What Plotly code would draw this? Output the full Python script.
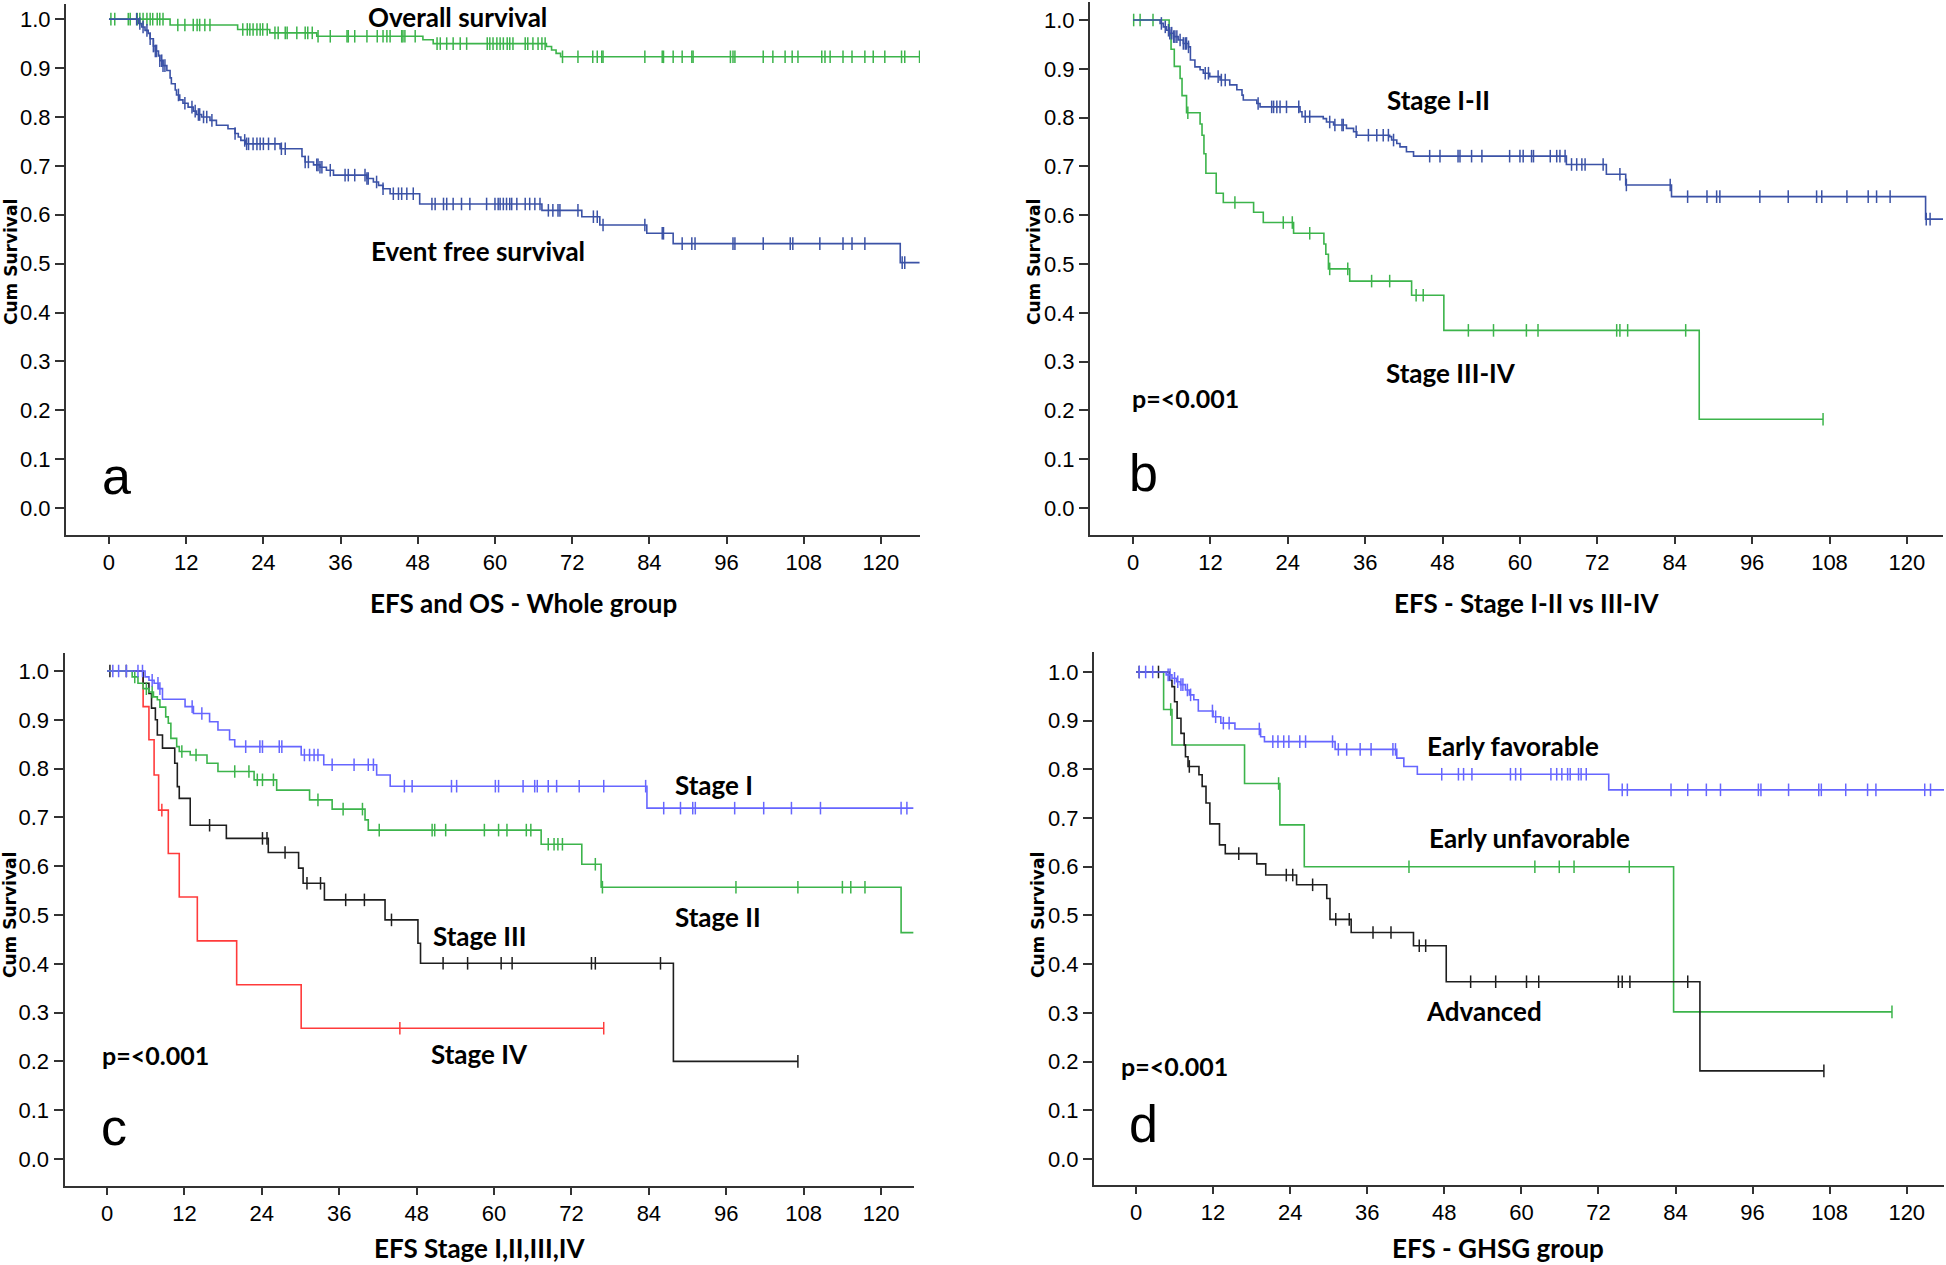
import plotly.graph_objects as go

# ---------------- data (months, cumulative survival) ----------------
# panel a: whole group
os_t = [9.5, 20.0, 25.0, 32.3, 48.8, 50.4, 68.0, 68.8, 69.5, 70.2]
os_s = [0.988, 0.979, 0.972, 0.965, 0.958, 0.950, 0.944, 0.937, 0.930, 0.923]
os_cens = [0.3, 0.9, 3.0, 3.3, 4.4, 4.8, 5.3, 5.9, 6.4, 6.8, 7.5, 7.9, 8.4, 10.7, 11.8, 13.1, 13.7,
           14.1, 14.9, 15.7, 20.8, 21.5, 21.9, 22.4, 23.0, 23.5, 23.9, 24.6, 25.8, 26.3, 27.4, 27.7,
           29.2, 30.5, 30.9, 31.6, 32.5, 34.4, 37.0, 37.2, 38.2, 40.1, 41.7, 42.6, 43.2, 43.7, 45.5,
           45.7, 46.0, 47.6, 51.0, 51.5, 52.5, 53.5, 54.6, 55.6, 58.8, 59.2, 59.7, 60.3, 60.8, 61.3,
           61.9, 62.3, 62.8, 64.7, 65.1, 65.9, 66.7, 67.3, 67.8, 70.5, 72.9, 75.2, 75.9, 76.6, 76.8,
           83.3, 86.0, 86.2, 87.7, 89.1, 90.6, 90.8, 96.6, 97.0, 97.3, 101.7, 103.2, 105.1, 106.2,
           107.1, 110.8, 111.3, 112.1, 114.1, 115.5, 117.5, 118.8, 120.6, 123.2, 123.7, 126.0]
os_end = 126.0

efs_t = [4.6, 5.1, 5.6, 6.1, 6.4, 6.9, 7.2, 7.7, 7.9, 8.4, 9.0, 9.5, 9.7, 10.3, 10.5, 11.0, 11.5,
         12.3, 13.1, 13.6, 14.4, 15.7, 16.7, 18.5, 19.6, 20.1, 20.5, 21.2, 26.6, 30.0, 30.5, 31.8,
         32.8, 33.8, 34.9, 40.1, 41.1, 41.9, 42.6, 43.7, 48.3, 67.3, 73.5, 76.3, 83.6, 87.7, 123.0]
efs_s = [0.991, 0.984, 0.977, 0.971, 0.960, 0.945, 0.935, 0.925, 0.915, 0.905, 0.895, 0.880, 0.868,
         0.855, 0.845, 0.835, 0.828, 0.820, 0.812, 0.805, 0.800, 0.793, 0.783, 0.776, 0.766, 0.759,
         0.752, 0.745, 0.735, 0.719, 0.708, 0.702, 0.697, 0.691, 0.681, 0.674, 0.667, 0.660, 0.653,
         0.643, 0.622, 0.609, 0.596, 0.579, 0.562, 0.541, 0.502]
efs_cens = [4.3, 4.8, 5.3, 5.9, 6.4, 6.9, 7.2, 7.4, 7.9, 8.2, 8.4, 8.7, 10.8, 11.8, 12.9, 13.4, 13.9,
            14.1, 14.7, 15.2, 16.0, 19.6, 21.1, 21.4, 21.7, 22.4, 23.0, 23.5, 24.0, 24.8, 25.8, 26.8,
            27.4, 30.5, 31.0, 32.3, 32.5, 32.8, 33.1, 34.4, 36.7, 37.2, 38.2, 39.8, 40.1, 40.3, 41.6,
            42.6, 44.2, 45.0, 45.5, 46.3, 47.3, 50.2, 50.7, 52.0, 52.5, 53.5, 54.8, 56.1, 58.7, 60.0,
            60.5, 60.8, 61.3, 61.8, 62.3, 62.6, 63.4, 64.7, 65.4, 66.2, 67.0, 68.3, 69.0, 69.8, 70.1,
            72.9, 75.3, 75.9, 76.8, 83.3, 86.0, 86.2, 89.1, 90.6, 91.1, 97.0, 97.3, 101.7, 105.9,
            106.3, 110.5, 114.1, 115.5, 117.5, 123.3, 123.7]
efs_end = 126.0

# panel b: stage I-II vs III-IV
b12_t = [4.2, 4.7, 5.2, 5.7, 6.3, 7.0, 7.8, 8.6, 8.9, 9.6, 10.4, 10.9, 11.9, 13.5, 15.0, 16.1, 16.9,
         17.1, 19.2, 19.7, 25.9, 26.2, 29.5, 30.0, 31.1, 33.1, 34.2, 34.7, 39.8, 40.1, 40.9, 41.4,
         42.4, 43.5, 67.2, 73.4, 76.4, 83.5, 122.9]
b12_s = [0.993, 0.986, 0.979, 0.973, 0.966, 0.959, 0.952, 0.945, 0.918, 0.904, 0.898, 0.891, 0.884,
         0.877, 0.867, 0.857, 0.846, 0.836, 0.829, 0.822, 0.812, 0.802, 0.798, 0.791, 0.785, 0.778,
         0.771, 0.764, 0.761, 0.754, 0.747, 0.740, 0.730, 0.721, 0.704, 0.684, 0.662, 0.638, 0.592]
b12_cens = [4.4, 5.0, 5.5, 5.7, 6.0, 6.3, 6.5, 6.8, 7.3, 7.8, 8.1, 8.3, 8.6, 11.2, 11.7, 13.2, 13.7,
            14.3, 19.4, 21.5, 21.8, 22.3, 22.8, 23.8, 25.7, 26.7, 27.4, 30.5, 31.3, 32.4, 32.6, 34.6,
            36.5, 37.8, 38.8, 39.6, 40.4, 46.0, 47.6, 50.4, 50.7, 52.5, 54.1, 58.4, 60.0, 60.5, 61.8,
            62.1, 64.7, 65.7, 66.2, 67.0, 68.0, 68.8, 69.6, 70.1, 72.9, 75.5, 76.5, 83.3, 86.0, 89.0,
            90.5, 91.0, 97.2, 101.6, 106.0, 106.8, 110.7, 114.0, 115.3, 117.4, 123.0, 123.6]
b12_end = 125.6

b34_t = [5.6, 5.9, 6.4, 7.3, 7.6, 8.3, 10.4, 10.7, 11.0, 11.3, 12.9, 14.0, 18.7, 20.2, 24.9, 29.6,
         29.9, 30.3, 33.6, 43.2, 48.2, 87.8]
b34_s = [0.970, 0.940, 0.905, 0.880, 0.845, 0.810, 0.787, 0.764, 0.726, 0.686, 0.645, 0.626, 0.606,
         0.585, 0.563, 0.541, 0.520, 0.490, 0.465, 0.436, 0.364, 0.182]
b34_cens = [0.1, 1.1, 3.1, 8.5, 15.8, 23.3, 24.7, 27.4, 30.5, 33.3, 37.0, 39.8, 43.9, 45.0, 52.0,
            55.9, 61.0, 62.8, 75.0, 75.5, 76.7, 85.7, 107.0]
b34_end = 107.0

# panel c: stage I, II, III, IV
c1_t = [5.9, 6.5, 7.3, 8.0, 8.6, 12.1, 13.4, 15.9, 17.2, 19.0, 19.8, 30.1, 33.6, 41.8, 43.9, 83.7]
c1_s = [0.988, 0.981, 0.975, 0.964, 0.942, 0.927, 0.913, 0.896, 0.879, 0.859, 0.845, 0.828, 0.808,
        0.787, 0.764, 0.719]
c1_cens = [0.9, 1.8, 3.0, 4.8, 5.5, 7.0, 7.9, 8.2, 13.2, 14.7, 21.5, 23.7, 24.1, 26.7, 27.1, 30.6,
           31.4, 32.1, 32.7, 34.9, 38.3, 40.5, 41.3, 46.1, 47.3, 53.4, 54.2, 60.2, 60.7, 64.5, 66.3,
           66.7, 68.4, 69.7, 73.2, 77.0, 83.5, 86.3, 88.9, 90.8, 91.2, 97.3, 101.8, 106.1, 110.6,
           123.1, 124.0]
c1_end = 125.0

c2_t = [3.9, 4.8, 5.6, 6.5, 7.2, 7.8, 8.2, 9.1, 9.5, 9.9, 10.8, 11.2, 12.9, 15.5, 17.2, 22.8, 26.3,
        31.4, 34.9, 40.0, 40.5, 67.3, 73.6, 76.6, 123.1]
c2_s = [0.988, 0.975, 0.964, 0.957, 0.947, 0.941, 0.926, 0.906, 0.893, 0.862, 0.845, 0.835, 0.828,
        0.811, 0.794, 0.777, 0.756, 0.736, 0.717, 0.695, 0.674, 0.645, 0.604, 0.557, 0.464]
c2_cens = [4.3, 6.1, 7.0, 11.6, 13.8, 19.8, 22.0, 23.3, 24.1, 25.8, 32.7, 36.6, 39.6, 42.2, 50.4,
           50.8, 52.5, 58.5, 60.7, 62.0, 65.0, 65.7, 68.4, 69.3, 69.9, 70.6, 75.7, 76.8, 97.5, 107.1,
           114.0, 115.3, 117.5]
c2_end = 125.0

c3_t = [5.6, 6.5, 6.9, 7.5, 7.8, 8.6, 10.5, 10.9, 11.2, 12.9, 18.5, 25.0, 29.7, 30.4, 33.7, 43.1,
        48.2, 48.6, 87.8]
c3_s = [0.975, 0.954, 0.924, 0.900, 0.869, 0.842, 0.811, 0.763, 0.739, 0.684, 0.657, 0.628, 0.596,
        0.565, 0.531, 0.490, 0.442, 0.401, 0.200]
c3_cens = [0.45, 3.0, 15.9, 24.1, 24.8, 27.6, 31.0, 33.1, 37.0, 39.9, 44.1, 52.1, 55.9, 61.1, 62.8,
           75.1, 75.7, 85.8, 107.1]
c3_end = 107.1

c4_t = [5.6, 6.5, 7.3, 8.0, 9.5, 11.2, 14.0, 20.1, 30.1]
c4_s = [0.927, 0.859, 0.787, 0.715, 0.626, 0.537, 0.447, 0.357, 0.268]
c4_cens = [8.5, 45.4, 77.0]
c4_end = 77.0

# panel d: GHSG group
ef_t = [4.7, 5.6, 6.3, 6.9, 7.7, 8.3, 9.0, 9.7, 12.0, 13.2, 15.4, 19.4, 20.0, 31.0, 40.6, 41.7,
        43.8, 73.6]
ef_s = [0.994, 0.987, 0.980, 0.974, 0.963, 0.953, 0.943, 0.920, 0.908, 0.895, 0.883, 0.867, 0.857,
        0.841, 0.823, 0.806, 0.790, 0.758]
ef_cens = [0.5, 1.5, 2.6, 5.0, 5.3, 6.0, 6.5, 7.0, 7.3, 8.0, 8.5, 11.9, 12.4, 13.6, 14.5, 19.2,
           21.3, 22.1, 23.0, 23.8, 25.5, 26.4, 30.6, 31.5, 32.8, 34.9, 36.6, 40.0, 40.4, 47.6, 50.2,
           51.0, 52.3, 58.3, 59.1, 59.9, 64.6, 65.5, 66.3, 67.2, 67.6, 68.9, 69.3, 70.1, 75.7, 76.5,
           83.3, 85.9, 88.8, 91.0, 96.9, 97.3, 101.6, 106.3, 106.7, 110.5, 113.9, 115.2, 122.8,
           123.7]
ef_end = 125.8

eu_t = [4.3, 5.6, 16.9, 22.4, 26.2, 83.7]
eu_s = [0.923, 0.850, 0.771, 0.686, 0.600, 0.302]
eu_cens = [5.4, 22.2, 42.5, 62.1, 65.9, 68.2, 76.8, 117.7]
eu_end = 117.7

adv_t = [5.2, 5.6, 6.0, 6.4, 7.0, 7.5, 7.7, 8.1, 9.8, 10.3, 10.9, 11.5, 13.0, 13.9, 18.8, 20.2, 25.0,
         29.7, 30.2, 33.5, 43.2, 48.3, 87.8]
adv_s = [0.983, 0.970, 0.939, 0.905, 0.874, 0.850, 0.826, 0.806, 0.789, 0.765, 0.731, 0.688, 0.645,
         0.627, 0.606, 0.583, 0.563, 0.535, 0.492, 0.465, 0.438, 0.364, 0.181]
adv_cens = [0.5, 3.5, 8.3, 16.0, 23.4, 24.4, 27.5, 31.1, 33.2, 36.9, 39.7, 44.1, 45.1, 52.1, 56.0,
            60.8, 62.7, 75.1, 75.7, 76.9, 85.9, 107.1]
adv_end = 107.1

x_ticks = [0, 12, 24, 36, 48, 60, 72, 84, 96, 108, 120]
y_ticks = [0.0, 0.1, 0.2, 0.3, 0.4, 0.5, 0.6, 0.7, 0.8, 0.9, 1.0]

# ---------------- colours ----------------
GREEN = "#3cb44b"
DBLUE = "#3b52a6"
LBLUE = "#6666ff"
RED = "#ff3b3b"
BLACK = "#1e1e1e"
AXIS = "#333333"


def step_xy(times, surv, end):
    return [0] + list(times) + [end], [1.0] + list(surv) + [surv[-1]]


def surv_at(times, surv, t):
    s = 1.0
    for ti, si in zip(times, surv):
        if ti <= t:
            s = si
    return s


fig = go.Figure()


def add_curve(times, surv, cens, end, color, n):
    xa, ya = ("x", "y") if n == 1 else ("x%d" % n, "y%d" % n)
    x, y = step_xy(times, surv, end)
    fig.add_trace(go.Scatter(x=x, y=y, mode="lines", line=dict(color=color, width=1.6, shape="hv"),
                             xaxis=xa, yaxis=ya, showlegend=False, hoverinfo="skip"))
    fig.add_trace(go.Scatter(x=cens, y=[surv_at(times, surv, t) for t in cens], mode="markers",
                             marker=dict(symbol="line-ns", size=9, line=dict(color=color, width=1.5)),
                             xaxis=xa, yaxis=ya, showlegend=False, hoverinfo="skip"))


add_curve(os_t, os_s, os_cens, os_end, GREEN, 1)
add_curve(efs_t, efs_s, efs_cens, efs_end, DBLUE, 1)
add_curve(b34_t, b34_s, b34_cens, b34_end, GREEN, 2)
add_curve(b12_t, b12_s, b12_cens, b12_end, DBLUE, 2)
add_curve(c4_t, c4_s, c4_cens, c4_end, RED, 3)
add_curve(c3_t, c3_s, c3_cens, c3_end, BLACK, 3)
add_curve(c2_t, c2_s, c2_cens, c2_end, GREEN, 3)
add_curve(c1_t, c1_s, c1_cens, c1_end, LBLUE, 3)
add_curve(eu_t, eu_s, eu_cens, eu_end, GREEN, 4)
add_curve(adv_t, adv_s, adv_cens, adv_end, BLACK, 4)
add_curve(ef_t, ef_s, ef_cens, ef_end, LBLUE, 4)

W, H = 1946, 1265
TICKFONT = dict(family="Liberation Sans, Arial, sans-serif", size=22, color="#000000")


def xax(x0, x1, r, anchor):
    return dict(domain=[x0 / W, x1 / W], range=r, anchor=anchor, tickvals=x_ticks,
                ticks="outside", ticklen=7, tickwidth=2, tickcolor=AXIS, showline=True,
                linecolor=AXIS, linewidth=2, showgrid=False, zeroline=False, tickfont=TICKFONT)


def yax(ybot, ytop, r, anchor):
    return dict(domain=[1 - ybot / H, 1 - ytop / H], range=r, anchor=anchor, tickvals=y_ticks,
                tickformat=".1f", ticks="outside", ticklen=9, tickwidth=2, tickcolor=AXIS,
                showline=True, linecolor=AXIS, linewidth=2, showgrid=False, zeroline=False,
                tickfont=TICKFONT)


fig.update_layout(
    width=W, height=H, margin=dict(l=0, r=0, t=0, b=0),
    paper_bgcolor="white", plot_bgcolor="white",
    xaxis=xax(66, 920, [-6.68, 126.07], "y"),
    yaxis=yax(535, 4, [-0.055, 1.031], "x"),
    xaxis2=xax(1090, 1943, [-6.67, 125.6], "y2"),
    yaxis2=yax(535, 2, [-0.0553, 1.0369], "x2"),
    xaxis3=xax(64.5, 914, [-6.59, 125.1], "y3"),
    yaxis3=yax(1186, 653, [-0.0553, 1.0369], "x3"),
    xaxis4=xax(1094, 1944, [-6.54, 125.8], "y4"),
    yaxis4=yax(1185, 652, [-0.0534, 1.041], "x4"),
)

LABEL = dict(family="Lato, Liberation Sans, sans-serif", size=26, color="black", weight="bold")
PFONT = dict(family="Lato, Liberation Sans, sans-serif", size=25, color="black", weight="bold")
LETTER = dict(family="Liberation Sans Narrow, Arial Narrow, Liberation Sans, sans-serif",
              size=52, color="black")
YTITLE = dict(family="DejaVu Sans, Verdana, sans-serif", size=17, color="black", weight="bold")


def note(text, x, y, n, font=LABEL):
    xr, yr = ("x", "y") if n == 1 else ("x%d" % n, "y%d" % n)
    fig.add_annotation(text=text, x=x, y=y, xref=xr, yref=yr, showarrow=False, font=font,
                       xanchor="center", yanchor="middle")


def paper_note(text, px, py, font=LABEL, angle=0):
    fig.add_annotation(text=text, x=px / W, y=1 - py / H, xref="paper", yref="paper",
                       showarrow=False, font=font, textangle=angle,
                       xanchor="center", yanchor="middle")


# panel a
note("Overall survival", 54.1, 1.005, 1)
note("Event free survival", 57.4, 0.526, 1)
note("a", 1.1, 0.066, 1, LETTER)
paper_note("EFS and OS - Whole group", 523, 603)
paper_note("Cum Survival", 11, 262, YTITLE, -90)

# panel b
note("Stage I-II", 47.4, 0.836, 2)
note("Stage III-IV", 49.3, 0.277, 2)
note("p=<0.001", 8.2, 0.225, 2, PFONT)
note("b", 1.7, 0.072, 2, LETTER)
paper_note("EFS - Stage I-II vs III-IV", 1527, 603)
paper_note("Cum Survival", 1034, 262, YTITLE, -90)

# panel c
note("Stage I", 94.1, 0.766, 3)
note("Stage II", 94.7, 0.496, 3)
note("Stage III", 57.7, 0.457, 3)
note("Stage IV", 57.7, 0.215, 3)
note("p=<0.001", 7.5, 0.213, 3, PFONT)
note("c", 1.15, 0.066, 3, LETTER)
paper_note("EFS Stage I,II,III,IV", 480, 1248)
paper_note("Cum Survival", 10, 915, YTITLE, -90)

# panel d
note("Early favorable", 58.7, 0.847, 4)
note("Early unfavorable", 61.2, 0.659, 4)
note("Advanced", 54.2, 0.304, 4)
note("p=<0.001", 6.0, 0.191, 4, PFONT)
note("d", 1.2, 0.072, 4, LETTER)
paper_note("EFS - GHSG group", 1498, 1248)
paper_note("Cum Survival", 1038, 915, YTITLE, -90)

# the page's default body margin would push the 1946x1265 figure out of the window
fig.write_html("out.html", config={"displayModeBar": False},
               post_script="document.body.style.margin='0px';")
